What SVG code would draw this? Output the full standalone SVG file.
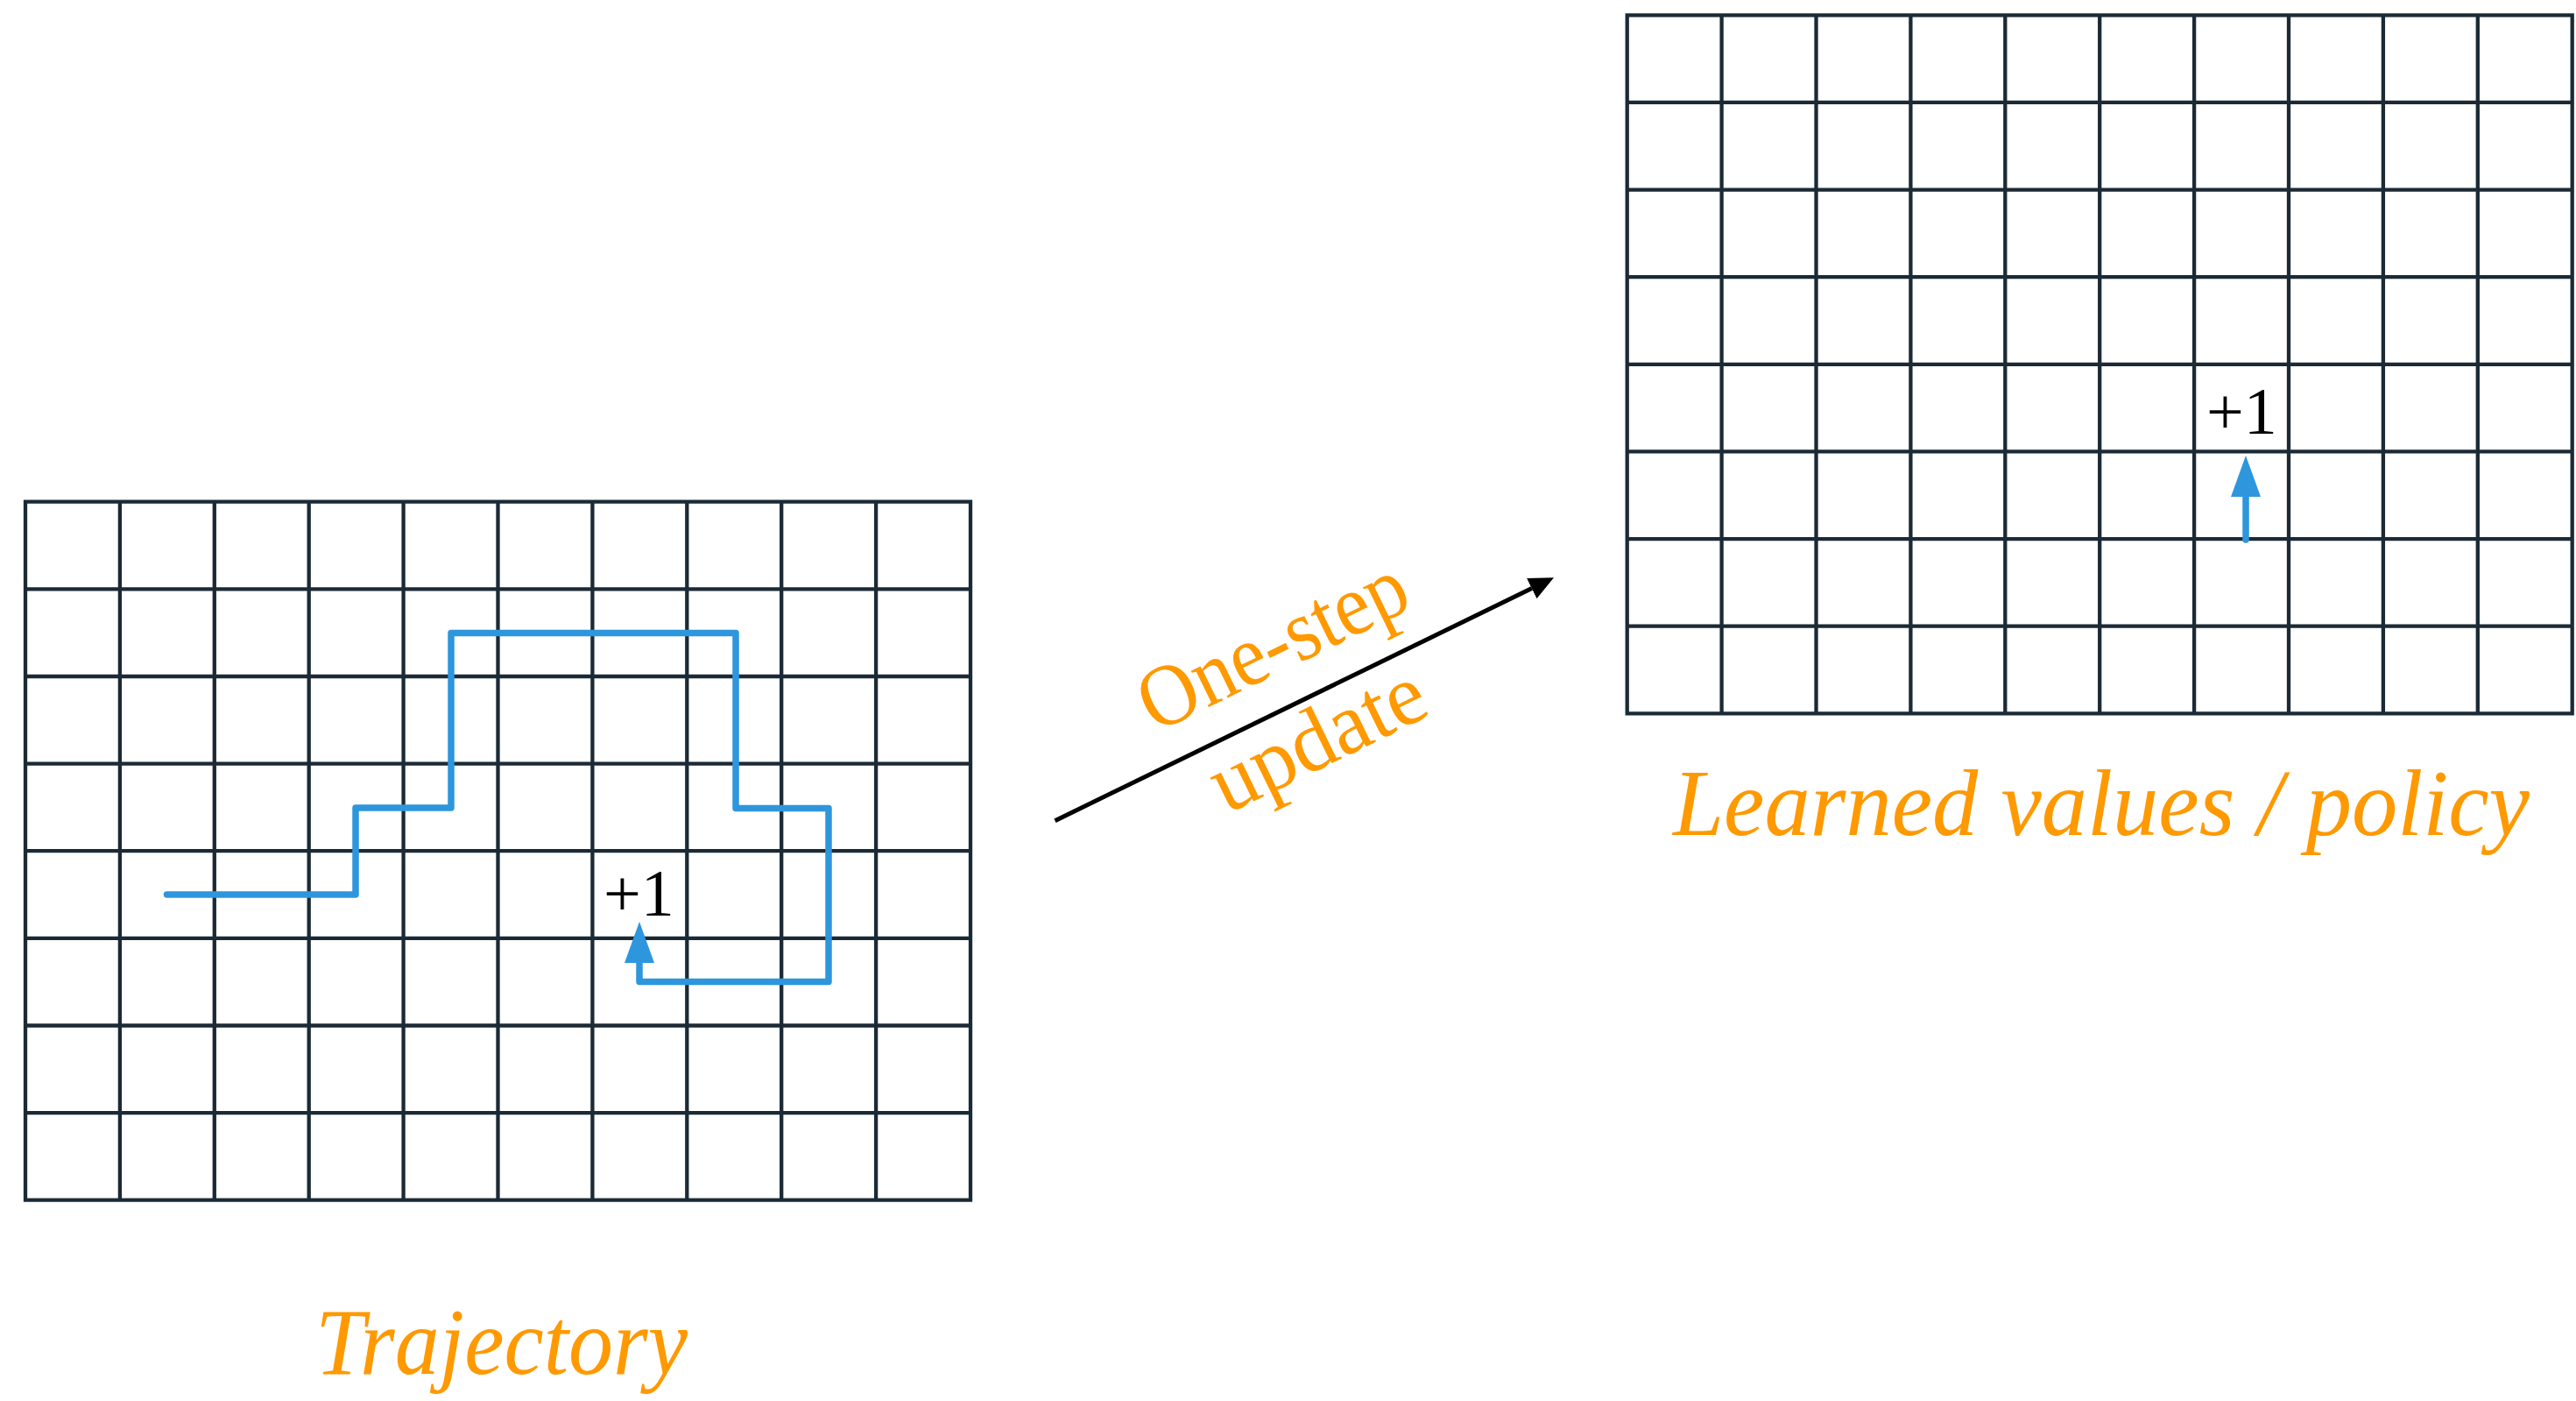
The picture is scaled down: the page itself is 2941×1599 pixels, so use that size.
<svg xmlns="http://www.w3.org/2000/svg" width="2941" height="1599" viewBox="0 0 2941 1599">
  <style>
    .grid { fill: none; stroke: #1b2a35; stroke-width: 4.3; stroke-linecap: square; }
    .traj { fill: none; stroke: #2e96dc; stroke-width: 7.5; stroke-linejoin: round; stroke-linecap: round; }
    .reward { font-family: "Liberation Serif", "Times New Roman", serif; font-size: 76px; fill: #000; }
    .label { font-family: "Liberation Serif", "Times New Roman", serif; fill: #ff9900; }
    .caption { font-style: italic; font-size: 107px; }
    .conn { fill: none; stroke: #000; stroke-width: 5; }
  </style>
  <defs>
    <!-- 10 x 8 grid world, cell 107.9 x 99.625 -->
    <path id="grid10x8" class="grid" d="M0 0V797M107.9 0V797M215.8 0V797M323.7 0V797M431.6 0V797M539.5 0V797M647.4 0V797M755.3 0V797M863.2 0V797M971.1 0V797M1079 0V797M0 0H1079M0 99.6H1079M0 199.3H1079M0 298.9H1079M0 398.5H1079M0 498.1H1079M0 597.8H1079M0 697.4H1079M0 797H1079"/>
    <marker id="blue-head" markerUnits="userSpaceOnUse" markerWidth="47" markerHeight="38" refX="0" refY="19" orient="auto" viewBox="0 0 47 38">
      <path d="M0 2L47 19L0 36Z" fill="#2e96dc"/>
    </marker>
    <marker id="black-head" markerUnits="userSpaceOnUse" markerWidth="28" markerHeight="28" refX="0" refY="14" orient="auto" viewBox="0 0 28 28">
      <path d="M0 1L28 14L0 27Z" fill="#000"/>
    </marker>
  </defs>

  <!-- Trajectory grid -->
  <g id="trajectory">
    <use href="#grid10x8" transform="translate(29 572.7)"/>
    <path class="traj" d="M190.5 1021H406V922H515V722.5H840V922.5H946V1120.5H730V1099" marker-end="url(#blue-head)"/>
    <text class="reward" x="689" y="1045">+1</text>
    <text class="label caption" x="360" y="1568" textLength="425" lengthAdjust="spacingAndGlyphs">Trajectory</text>
  </g>

  <!-- Learned values / policy grid -->
  <g id="learned">
    <use href="#grid10x8" transform="translate(1857.7 17.3)"/>
    <path class="traj" d="M2564 616V567" marker-end="url(#blue-head)"/>
    <text class="reward" x="2519" y="495">+1</text>
    <text class="label caption" x="1910" y="953" textLength="978" lengthAdjust="spacingAndGlyphs">Learned values / policy</text>
  </g>

  <!-- Update connector -->
  <g id="connectors">
    <path class="conn" d="M1204.5 936.7L1748.8 671.6" marker-end="url(#black-head)"/>
    <text class="label" font-size="100" text-anchor="middle" textLength="330" lengthAdjust="spacingAndGlyphs" transform="rotate(-26 1467 764.7)" x="1467" y="764.7">One-step</text>
    <text class="label" font-size="100" text-anchor="middle" textLength="262" lengthAdjust="spacingAndGlyphs" transform="rotate(-26 1518.3 872.1)" x="1518.3" y="872.1">update</text>
  </g>
</svg>
